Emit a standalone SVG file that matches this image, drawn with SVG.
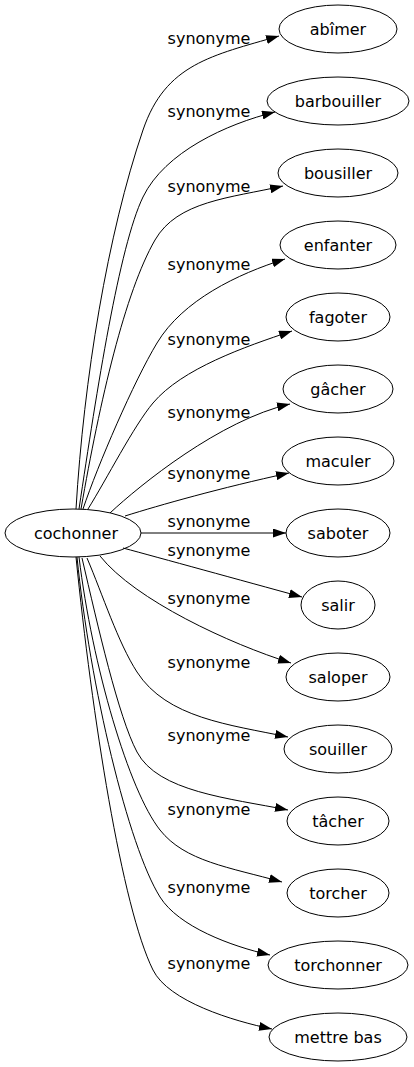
<svg xmlns="http://www.w3.org/2000/svg" width="414" height="1067" viewBox="0 0 414 1067">
<style>
.node ellipse{fill:none;stroke:#000;stroke-width:1}
.node text{font-family:"DejaVu Sans",sans-serif;font-size:16px;text-anchor:middle;fill:#000}
.edge{fill:none;stroke:#000;stroke-width:1;marker-end:url(#arrow)}
.lbl{font-family:"DejaVu Sans",sans-serif;font-size:16px;text-anchor:middle;fill:#000}
</style>
<defs>
<marker id="arrow" markerUnits="userSpaceOnUse" viewBox="0 0 13 9" markerWidth="13" markerHeight="9" refX="13" refY="4.5" orient="auto">
<path d="M0,0 L13,4.5 L0,9 z" fill="#000"/>
</marker>
</defs>
<rect width="414" height="1067" fill="#fff"/>
<g id="edges">
<path class="edge" d="M76,509 C83.8,379 107.5,234.1 143,130 C165.6,63.8 211.8,55.6 279,36"/>
<path class="edge" d="M79,509 C97,389 119.1,246.5 143,197 C164.8,152 226.5,124 275,112"/>
<path class="edge" d="M81,509 C100,400 125,292 155,240 C177.5,201 229.6,198.1 283,186"/>
<path class="edge" d="M83,509 C97.9,464.7 133.8,381.4 157,343 C182.8,300.2 237.3,274 285,259"/>
<path class="edge" d="M88,509 C106.6,479.2 133.7,426 153,403 C182,368.6 244.6,346.8 292,331"/>
<path class="edge" d="M110,513 C140,485 220,420 290,404"/>
<path class="edge" d="M125,516 C160,505 220,488 289,473"/>
<path class="edge" d="M141,533 L286,533"/>
<path class="edge" d="M123,548 C160,558 240,580 302,597"/>
<path class="edge" d="M100,556 C135,600 230,644 291,663"/>
<path class="edge" d="M87,558 C102.7,594.8 118,642.6 137,672 C166.8,718.2 229.3,724.6 288,737"/>
<path class="edge" d="M82,558 C97.9,626.2 118.3,716.6 137,752 C158,791.8 229.2,798.2 288,810"/>
<path class="edge" d="M79,557 C92.2,666.2 129,790.8 160,830 C184.8,861.4 229,867.2 282,882"/>
<path class="edge" d="M77,557 C90,686.4 128.2,846.1 160,897 C178.6,926.7 231,946.2 270,955"/>
<path class="edge" d="M76,557 C92,716.2 121.9,907.3 153,970 C168.5,1001.4 233,1021 272,1029"/>
</g>
<g id="edge-labels">
<text class="lbl" x="209" y="44">synonyme</text>
<text class="lbl" x="209" y="117">synonyme</text>
<text class="lbl" x="209" y="192">synonyme</text>
<text class="lbl" x="209" y="270">synonyme</text>
<text class="lbl" x="209" y="345">synonyme</text>
<text class="lbl" x="209" y="418">synonyme</text>
<text class="lbl" x="209" y="479">synonyme</text>
<text class="lbl" x="209" y="527">synonyme</text>
<text class="lbl" x="209" y="556">synonyme</text>
<text class="lbl" x="209" y="604">synonyme</text>
<text class="lbl" x="209" y="668">synonyme</text>
<text class="lbl" x="209" y="741">synonyme</text>
<text class="lbl" x="209" y="815">synonyme</text>
<text class="lbl" x="209" y="893">synonyme</text>
<text class="lbl" x="209" y="969">synonyme</text>
</g>
<g id="cochonner" class="node"><ellipse cx="73" cy="533" rx="68" ry="24"/><text x="76" y="539">cochonner</text></g>
<g id="abimer" class="node"><ellipse cx="338" cy="29" rx="59" ry="24"/><text x="338" y="35">abîmer</text></g>
<g id="barbouiller" class="node"><ellipse cx="338" cy="101" rx="71" ry="24"/><text x="338" y="107">barbouiller</text></g>
<g id="bousiller" class="node"><ellipse cx="338" cy="173" rx="60" ry="24"/><text x="338" y="179">bousiller</text></g>
<g id="enfanter" class="node"><ellipse cx="338" cy="245" rx="58" ry="24"/><text x="338" y="251">enfanter</text></g>
<g id="fagoter" class="node"><ellipse cx="338" cy="317" rx="52" ry="24"/><text x="338" y="323">fagoter</text></g>
<g id="gacher" class="node"><ellipse cx="338" cy="389" rx="55" ry="24"/><text x="338" y="395">gâcher</text></g>
<g id="maculer" class="node"><ellipse cx="338" cy="461" rx="56" ry="24"/><text x="338" y="467">maculer</text></g>
<g id="saboter" class="node"><ellipse cx="338" cy="533" rx="52" ry="24"/><text x="338" y="539">saboter</text></g>
<g id="salir" class="node"><ellipse cx="338" cy="605" rx="37" ry="24"/><text x="338" y="611">salir</text></g>
<g id="saloper" class="node"><ellipse cx="338" cy="677" rx="52" ry="24"/><text x="338" y="683">saloper</text></g>
<g id="souiller" class="node"><ellipse cx="338" cy="749" rx="54" ry="24"/><text x="338" y="755">souiller</text></g>
<g id="tacher" class="node"><ellipse cx="338" cy="821" rx="51" ry="24"/><text x="338" y="827">tâcher</text></g>
<g id="torcher" class="node"><ellipse cx="338" cy="893" rx="51" ry="24"/><text x="338" y="899">torcher</text></g>
<g id="torchonner" class="node"><ellipse cx="338" cy="965" rx="70" ry="24"/><text x="338" y="971">torchonner</text></g>
<g id="mettre-bas" class="node"><ellipse cx="338" cy="1037" rx="69" ry="24"/><text x="338" y="1043">mettre bas</text></g>
</svg>
